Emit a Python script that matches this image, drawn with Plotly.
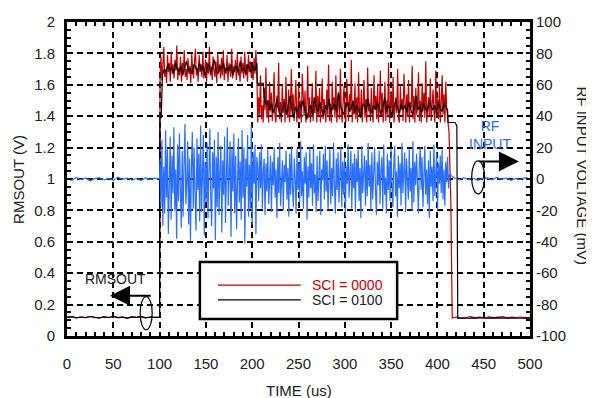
import numpy as np
import plotly.graph_objects as go

# ---- values (time in us) ----
x_ticks = [0, 50, 100, 150, 200, 250, 300, 350, 400, 450, 500]
y_ticks = [0, 0.2, 0.4, 0.6, 0.8, 1, 1.2, 1.4, 1.6, 1.8, 2]
y_labels = ["0", "0.2", "0.4", "0.6", "0.8", "1", "1.2", "1.4", "1.6", "1.8", "2"]
y2_ticks = [-100, -80, -60, -40, -20, 0, 20, 40, 60, 80, 100]
y2_labels = ["-100", "-80", "-60", "-40", "-20", "0", "20", "40", "60", "80", "100"]

# RMSOUT baseline before the burst (0..100 us, 5 us apart), both settings
rms_pre = [0.118, 0.123, 0.115, 0.121, 0.117, 0.124, 0.119, 0.116, 0.122, 0.118, 0.125,
           0.117, 0.120, 0.114, 0.122, 0.119, 0.123, 0.116, 0.121, 0.118, 0.120]

# SCI = 0000 (red)
red_hi = [1.66, 1.78, 1.63, 1.72, 1.84, 1.65, 1.70, 1.61, 1.79, 1.68, 1.74, 1.62, 1.81, 1.67, 1.73,
          1.64, 1.76, 1.69, 1.85, 1.63, 1.71, 1.66, 1.78, 1.62, 1.74, 1.68, 1.82, 1.65, 1.70, 1.63,
          1.77, 1.67, 1.72, 1.61, 1.80, 1.69, 1.64, 1.75, 1.83, 1.66, 1.71, 1.62, 1.79, 1.68, 1.73,
          1.65, 1.81, 1.64, 1.70, 1.76, 1.62, 1.74, 1.67, 1.84, 1.66, 1.72, 1.63, 1.78, 1.69, 1.65,
          1.75, 1.61, 1.80, 1.68, 1.73, 1.64, 1.77, 1.66, 1.82, 1.63, 1.71, 1.67, 1.79, 1.62, 1.74,
          1.69, 1.65, 1.83, 1.64, 1.72, 1.68, 1.76, 1.63, 1.80, 1.66, 1.70, 1.62, 1.78, 1.67, 1.74,
          1.64, 1.81, 1.66, 1.73, 1.62, 1.79, 1.68, 1.75, 1.65, 1.71, 1.63, 1.77, 1.67, 1.82, 1.69]
red_lo = [1.36, 1.52, 1.41, 1.66, 1.38, 1.47, 1.36, 1.58, 1.44, 1.71, 1.39, 1.50, 1.36, 1.62, 1.43,
          1.55, 1.37, 1.48, 1.68, 1.40, 1.36, 1.53, 1.45, 1.74, 1.38, 1.49, 1.36, 1.60, 1.42, 1.51,
          1.36, 1.65, 1.44, 1.39, 1.57, 1.36, 1.46, 1.70, 1.41, 1.54, 1.37, 1.48, 1.63, 1.36, 1.43,
          1.59, 1.38, 1.50, 1.36, 1.67, 1.45, 1.40, 1.56, 1.36, 1.47, 1.72, 1.39, 1.52, 1.36, 1.44,
          1.61, 1.37, 1.49, 1.42, 1.69, 1.36, 1.53, 1.40, 1.58, 1.36, 1.46, 1.64, 1.38, 1.51, 1.43,
          1.36, 1.57, 1.41, 1.73, 1.37, 1.48, 1.36, 1.62, 1.44, 1.52, 1.39, 1.66, 1.36, 1.45, 1.55,
          1.38, 1.70, 1.42, 1.36, 1.50, 1.59, 1.40, 1.36, 1.64, 1.47, 1.37, 1.54, 1.43, 1.76, 1.36,
          1.49, 1.41, 1.61, 1.38, 1.52, 1.36, 1.68, 1.44, 1.40, 1.57, 1.36, 1.46, 1.63, 1.39, 1.51,
          1.36, 1.71, 1.43, 1.48, 1.37, 1.58, 1.42, 1.36, 1.66, 1.45, 1.53, 1.38, 1.60, 1.36, 1.47,
          1.69, 1.40, 1.55, 1.36, 1.44, 1.62, 1.37, 1.50, 1.41, 1.74, 1.36, 1.48, 1.56, 1.39, 1.65,
          1.36, 1.46, 1.52, 1.42, 1.70, 1.38, 1.36, 1.59, 1.44, 1.51, 1.37, 1.67, 1.43, 1.36, 1.54,
          1.40, 1.63, 1.36, 1.49, 1.45, 1.72, 1.38, 1.53, 1.36, 1.58, 1.41, 1.47, 1.68, 1.37, 1.50,
          1.36, 1.61, 1.43, 1.55, 1.39, 1.75, 1.36, 1.46, 1.52, 1.40, 1.64, 1.37, 1.49, 1.57, 1.42,
          1.36, 1.69, 1.44, 1.51, 1.38, 1.60, 1.36, 1.48, 1.66, 1.41, 1.54, 1.36, 1.62, 1.45, 1.40]
red_fall_t = [412.5, 414.5]
red_fall = [1.30, 0.86]
red_post = [0.115, 0.121, 0.113, 0.118, 0.124, 0.116, 0.120, 0.114, 0.122,
            0.117, 0.119, 0.123, 0.115, 0.120, 0.117, 0.121, 0.114, 0.119]

# SCI = 0100 (black)
blk_rise_t = [100.3, 101.8, 102.3]
blk_rise = [1.39, 1.39, 1.62]
blk_hi = [1.66, 1.70, 1.68, 1.73, 1.69, 1.71, 1.67, 1.74, 1.70, 1.68, 1.72, 1.66, 1.71, 1.75, 1.69,
          1.70, 1.67, 1.73, 1.71, 1.68, 1.74, 1.69, 1.72, 1.66, 1.70, 1.73, 1.68, 1.71, 1.76, 1.69,
          1.67, 1.72, 1.70, 1.74, 1.68, 1.71, 1.69, 1.73, 1.66, 1.70, 1.72, 1.68, 1.75, 1.69, 1.71,
          1.67, 1.73, 1.70, 1.68, 1.72, 1.69, 1.74]
blk_step_t = [205.5, 212]
blk_step = [1.61, 1.61]
blk_lo = [1.52, 1.47, 1.50, 1.44, 1.48, 1.42, 1.46, 1.51, 1.43, 1.40, 1.45, 1.49, 1.41, 1.47, 1.53,
          1.44, 1.39, 1.46, 1.42, 1.48, 1.45, 1.50, 1.43, 1.38, 1.44, 1.47, 1.41, 1.52, 1.46, 1.43,
          1.49, 1.45, 1.40, 1.47, 1.44, 1.51, 1.42, 1.46, 1.48, 1.43, 1.55, 1.47, 1.44, 1.41, 1.46,
          1.49, 1.43, 1.45, 1.50, 1.42, 1.47, 1.44, 1.39, 1.46, 1.48, 1.43, 1.51, 1.45, 1.42, 1.47,
          1.44, 1.49, 1.46, 1.41, 1.45, 1.52, 1.43, 1.47, 1.44, 1.40, 1.46, 1.50, 1.45, 1.42, 1.48,
          1.44, 1.47, 1.43, 1.49, 1.45, 1.41, 1.46, 1.53, 1.44, 1.47, 1.42, 1.48, 1.45, 1.43, 1.50,
          1.46, 1.44, 1.47, 1.42, 1.49, 1.45, 1.43, 1.48, 1.46, 1.44]
blk_fall_t = [411.5, 419, 421]
blk_fall = [1.36, 1.36, 1.34]
blk_post = [0.112, 0.115, 0.113, 0.116, 0.114, 0.117, 0.113, 0.115,
            0.114, 0.116, 0.112, 0.115, 0.114, 0.113, 0.116, 0.114]

# RF input (mV)
rf_pre = [0.5, -0.8, 1.0, -0.3, 0.7, -1.1, 0.2, 0.9, -0.6, 0.4, -0.9,
          1.2, -0.2, 0.6, -0.7, 0.3, -1.0, 0.8, -0.4, 0.5, 0.0]
rf_burst1 = [12, -18, 25, -30, 8, -22, 31, -12, 19, -35, 4, 27, -26, 15, -9,
             33, -20, 6, -38, 22, -14, 29, -5, -31, 18, -24, 10, 35, -16, -3,
             24, -29, 13, -40, 7, 30, -19, 20, -11, -33, 26, -7, 16, -27, 34,
             -21, 3, 28, -36, 11, -15, 23, -25, 9, 32, -13, -30, 17, -6, 25,
             -39, 14, -18, 30, -23, 5, 21, -34, 12, -10, 27, -28, 8, 33, -17,
             -2, 24, -37, 19, -8, 29, -22, 15, -32, 6, 26, -15, 11, -26, 31,
             -12, 20, -41, 13, -5, 28, -24, 9, -19, 34, -29, 17, -3, 22, -35, 14]
rf_burst2 = [8, -14, 17, -6, 22, -19, 4, 13, -23, 10, -8, 19, -16, 2, 15,
             -21, 11, -4, 20, -12, 6, -25, 14, -9, 23, -17, 3, 12, -20, 9,
             -2, 18, -13, 7, -24, 16, -10, 21, -5, -18, 13, 1, -22, 19, -7,
             11, -15, 24, -11, 5, -19, 14, -3, 17, -26, 8, -12, 20, -6, 10,
             -17, 22, -9, 3, -21, 15, -14, 9, 18, -23, 6, -1, 16, -13, 21,
             -8, 12, -20, 4, 19, -16, 7, -11, 23, -4, -22, 13, -7, 17, -15,
             2, 20, -18, 11, -10, 14, -24, 8, -3, 22, -12, 5, 18, -19, 10,
             -6, 16, -21, 13, -2, 19, -14, 7, -25, 21, -9, 4, 15, -17, 12,
             -11, 23, -5, 9, -20, 17, -13, 3, 20, -8, -23, 11, -4, 18, -16,
             6, 14, -19, 22, -10, 1, -22, 16, -7, 12, -14, 19, -3, -18, 8,
             21, -11, 5, -24, 15, -6, 10, -17, 23, -9, 2, 17, -21, 13, -1,
             -13, 19, -8, 7, -20, 24, -15, 11, -4, 16, -12, -22, 9, 20, -7,
             14, -18, 3, 21, -10, 6, -16, 12, -25, 18, -5, 8, -14, 22, -11,
             4, 17, -20, 10, -3, 15, -9, 19, -13, 6, -17, 11, -2, 14, -6]
rf_post = [3.0, 0.8, -0.6, 0.9, -0.4, 0.6, -0.9, 0.3, 0.7,
           -0.5, 1.0, -0.2, 0.5, -0.8, 0.4, -0.3, 0.8, 0.1]


def span(a, b, vals):
    return list(np.linspace(a, b, len(vals)))


red_t = (span(0, 100, rms_pre) + span(100.5, 205, red_hi) + span(206, 411, red_lo)
         + red_fall_t + span(416, 500, red_post))
red_v = rms_pre + red_hi + red_lo + red_fall + red_post

blk_t = (span(0, 100, rms_pre) + blk_rise_t + span(103, 205, blk_hi) + blk_step_t
         + span(213, 411, blk_lo) + blk_fall_t + span(422, 500, blk_post))
blk_v = rms_pre + blk_rise + blk_hi + blk_step + blk_lo + blk_fall + blk_post

rf_t = (span(0, 100, rf_pre) + span(100.5, 205, rf_burst1) + span(206, 412, rf_burst2)
        + span(413, 500, rf_post))
rf_v = rf_pre + rf_burst1 + rf_burst2 + rf_post

RED = "#c00000"
BLUE = "#2a6fff"
INK = "#222"
FONT = "Liberation Sans, Arial, sans-serif"

fig = go.Figure()
fig.add_trace(go.Scatter(x=rf_t, y=rf_v, yaxis="y2", mode="lines",
                         line=dict(color=BLUE, width=1.2), name="RF INPUT"))
fig.add_trace(go.Scatter(x=red_t, y=red_v, mode="lines",
                         line=dict(color=RED, width=1.2), name="SCI = 0000"))
fig.add_trace(go.Scatter(x=blk_t, y=blk_v, mode="lines",
                         line=dict(color="black", width=1.2), name="SCI = 0100"))

grid = dict(showgrid=True, gridcolor="black", gridwidth=2, griddash="6px,4px")
minor_tick = dict(ticks="inside", ticklen=4, tickwidth=1.5, tickcolor="black", showgrid=False)

# the page body adds an 8px offset, so the figure is shrunk to fit the window
fig.update_layout(
    width=586, height=390,
    margin=dict(l=59, r=64, t=14, b=62, autoexpand=False),
    paper_bgcolor="white", plot_bgcolor="white",
    font=dict(family=FONT, size=15, color=INK),
    showlegend=False,
    xaxis=dict(range=[0, 500], tickvals=x_ticks, ticks="inside", ticklen=4, tickwidth=1.5,
               tickcolor="black", showline=True, linewidth=3, linecolor="black",
               mirror="ticks", zeroline=False, ticklabelstandoff=12,
               minor=dict(dtick=10, **minor_tick), **grid),
    yaxis=dict(range=[0, 2], tickvals=y_ticks, ticktext=y_labels, ticks="inside", ticklen=4,
               tickwidth=1.5, tickcolor="black", showline=True, linewidth=3, linecolor="black",
               mirror="ticks", zeroline=False, ticklabelstandoff=6,
               minor=dict(dtick=0.05, **minor_tick), **grid),
    yaxis2=dict(range=[-100, 100], tickvals=y2_ticks, ticktext=y2_labels, overlaying="y",
                side="right", showgrid=False, zeroline=False, showline=False, ticks="",
                ticklabelstandoff=5),
)

# axis titles
fig.add_annotation(text="TIME (us)", xref="paper", yref="paper", x=0.5, y=-0.172,
                   xanchor="center", yanchor="middle", showarrow=False,
                   font=dict(size=15, color=INK))
fig.add_annotation(text="RMSOUT (V)", xref="paper", yref="paper", x=-0.106, y=0.5,
                   xanchor="center", yanchor="middle", textangle=-90, showarrow=False,
                   font=dict(size=15, color=INK))
fig.add_annotation(text="RF INPUT VOLTAGE (mV)", xref="paper", yref="paper", x=1.113, y=0.51,
                   xanchor="center", yanchor="middle", textangle=90, showarrow=False,
                   font=dict(size=15, color=INK))

# callouts
fig.add_shape(type="circle", xref="x", yref="y", x0=79, x1=92, y0=0.04, y1=0.25,
              line=dict(color="black", width=1.2))
fig.add_annotation(x=46.5, y=0.256, ax=92, ay=0.256, axref="x", ayref="y", text="",
                   showarrow=True, arrowhead=2, arrowsize=2, arrowwidth=2, arrowcolor="black")
fig.add_annotation(x=52, y=0.36, text="RMSOUT", showarrow=False,
                   font=dict(size=14, color=INK))

fig.add_shape(type="circle", xref="x", yref="y", x0=437, x1=451, y0=0.905, y1=1.115,
              line=dict(color="black", width=1.2))
fig.add_annotation(x=488, y=1.112, ax=443.7, ay=1.112, axref="x", ayref="y", text="",
                   showarrow=True, arrowhead=2, arrowsize=2, arrowwidth=2, arrowcolor="black")
fig.add_annotation(x=457, y=1.28, text="RF<br>INPUT", showarrow=False,
                   font=dict(size=14, color=BLUE))

# legend box drawn by hand so the sample lines are long like the original
fig.add_shape(type="rect", xref="paper", yref="paper", x0=0.287, x1=0.713, y0=0.054, y1=0.236,
              fillcolor="white", line=dict(color="black", width=2.5), layer="above")
fig.add_shape(type="line", xref="paper", yref="paper", x0=0.326, x1=0.505, y0=0.162, y1=0.162,
              line=dict(color=RED, width=1.2), layer="above")
fig.add_shape(type="line", xref="paper", yref="paper", x0=0.326, x1=0.505, y0=0.115, y1=0.115,
              line=dict(color="black", width=1.2), layer="above")
fig.add_annotation(text="SCI = 0000", xref="paper", yref="paper", x=0.525, y=0.162,
                   xanchor="left", yanchor="middle", showarrow=False,
                   font=dict(size=14, color=RED))
fig.add_annotation(text="SCI = 0100", xref="paper", yref="paper", x=0.525, y=0.115,
                   xanchor="left", yanchor="middle", showarrow=False,
                   font=dict(size=14, color=INK))

fig.write_html("out.html")
